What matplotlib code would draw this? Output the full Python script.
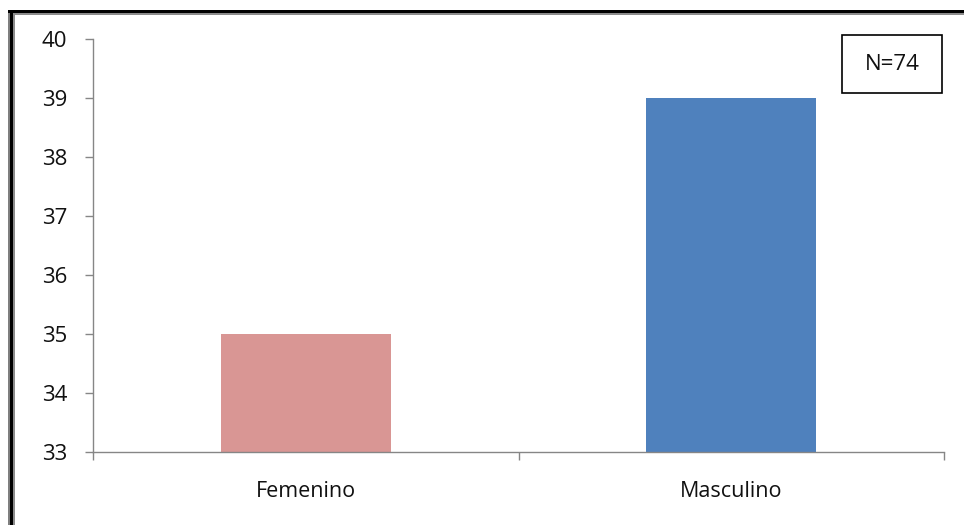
import matplotlib
matplotlib.use("Agg")
import matplotlib.pyplot as plt
from matplotlib.patches import Rectangle

categories = ["Femenino", "Masculino"]
values = [35, 39]
bar_colors = ["#D99694", "#4F81BD"]
y_ticks = [33, 34, 35, 36, 37, 38, 39, 40]
note = "N=74"

W, H = 964, 525
fig = plt.figure(figsize=(W / 100, H / 100), dpi=100)
plt.rcParams["font.family"] = ["Open Sans", "DejaVu Sans"]

# plot area in pixels: x 93..944, y 39..452
ax = fig.add_axes([93 / W, 1 - 452 / H, (944 - 93) / W, (452 - 39) / H])
x = list(range(len(categories)))
ax.bar(x, values, width=0.4, color=bar_colors, bottom=0)
ax.set_xlim(-0.5, 1.5)
ax.set_ylim(33, 40)
ax.set_yticks(y_ticks)
ax.set_yticklabels([str(t) for t in y_ticks], fontsize=16, color="#111111")
ax.set_xticks(x)
ax.set_xticklabels(categories, fontsize=15.5, color="#111111")
ax.tick_params(axis="x", length=0, pad=21)
ax.set_xticks([-0.5, 0.5, 1.5], minor=True)
ax.tick_params(axis="x", which="minor", length=6, width=1, color="#868686", direction="out")
ax.tick_params(axis="y", length=6, width=1, color="#868686", direction="out", pad=12.5)
for s in ["top", "right"]:
    ax.spines[s].set_visible(False)
for s in ["left", "bottom"]:
    ax.spines[s].set_color("#868686")
    ax.spines[s].set_linewidth(1)

# sample-size annotation box
fig.text(892 / W, 1 - 64 / H, note, ha="center", va="center", fontsize=16, color="#111111")
fig.patches.append(Rectangle((842 / W, 1 - 93 / H), 100 / W, 58 / H,
                             transform=fig.transFigure, fill=False,
                             edgecolor="black", linewidth=1.2))

# outer frame (left and top edges)
fig.patches.append(Rectangle((8 / W, 0), 2 / W, 1 - 10 / H, transform=fig.transFigure,
                             color="#7f7f7f", lw=0))
fig.patches.append(Rectangle((10 / W, 0), 3 / W, 1 - 10 / H, transform=fig.transFigure,
                             color="black", lw=0))
fig.patches.append(Rectangle((13 / W, 0), 2 / W, 1 - 13 / H, transform=fig.transFigure,
                             color="#8c8c8c", lw=0))
fig.patches.append(Rectangle((8 / W, 1 - 13 / H), 1 - 8 / W, 3 / H, transform=fig.transFigure,
                             color="black", lw=0))
fig.patches.append(Rectangle((13 / W, 1 - 15 / H), 1 - 13 / W, 2 / H, transform=fig.transFigure,
                             color="#8c8c8c", lw=0))

fig.savefig("out.png", dpi=100)
